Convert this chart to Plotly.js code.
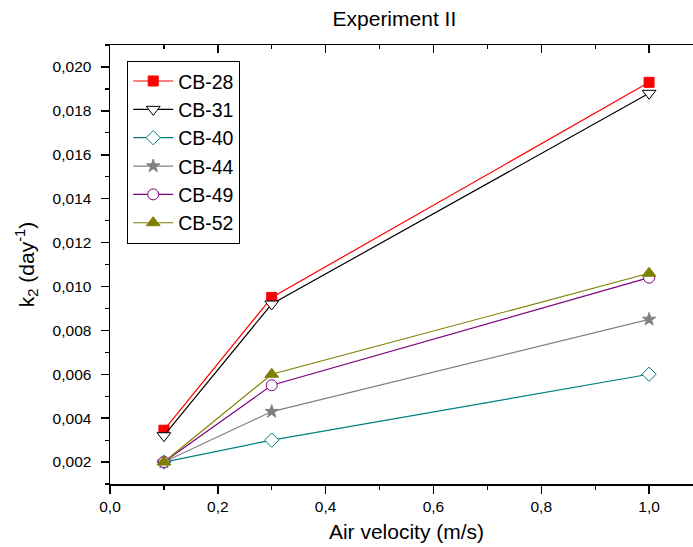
<!DOCTYPE html>
<html><head><meta charset="utf-8">
<script src="https://cdn.plot.ly/plotly-3.0.1.min.js"></script>
<style>html,body{margin:0;padding:0;overflow:hidden;background:#fff;}</style>
</head><body><div id="chart"></div>
<script>
const velocity = [0.1, 0.3, 1.0];
const seriesNames = ["CB-28", "CB-31", "CB-40", "CB-44", "CB-49", "CB-52"];
const cb28 = [0.00345, 0.0095, 0.0193];
const cb31 = [0.0032, 0.0092, 0.0188];
const cb40 = [0.0020, 0.0030, 0.0060];
const cb44 = [0.0020, 0.0043, 0.0085];
const cb49 = [0.0020, 0.0055, 0.0104];
const cb52 = [0.0020, 0.0060, 0.0106];
const values = [cb28, cb31, cb40, cb44, cb49, cb52];

const colors = ["#ff0000", "#000000", "#008080", "#808080", "#800080", "#808000"];
const symbols = ["square", "triangle-down", "diamond", "star", "circle", "triangle-up"];
const fills = ["#ff0000", "#ffffff", "#ffffff", "#808080", "#ffffff", "#808000"];
const sizes = [10, 12, 11, 10, 11, 12];

const traces = seriesNames.map((n, i) => ({
  x: velocity, y: values[i], name: n, type: "scatter", mode: "lines+markers",
  line: {color: colors[i], width: 1.2},
  marker: {symbol: symbols[i], size: sizes[i], color: fills[i], line: {color: colors[i], width: 1}}
}));
traces.push({x: [0], y: [0.001], xaxis: "x2", yaxis: "y", showlegend: false, hoverinfo: "skip", mode: "markers", marker: {opacity: 0}});

const font = {family: "Liberation Sans, Arial, sans-serif", color: "#000"};
const layout = {
  width: 703, height: 547,
  margin: {l: 110, r: 0, t: 45, b: 63},
  separators: ", ",
  paper_bgcolor: "#fff", plot_bgcolor: "#fff",
  font: Object.assign({size: 15.5}, font),
  title: {text: "Experiment II", x: 0.561, xanchor: "center", y: 0.98, yanchor: "top", font: Object.assign({size: 21}, font)},
  xaxis: {
    range: [0, 1.1], dtick: 0.2, tick0: 0, tickformat: ".1f",
    showgrid: false, zeroline: false, showline: true, linecolor: "#000", linewidth: 1.5,
    ticks: "outside", ticklen: 8, tickwidth: 1.5, tickcolor: "#000",
    minor: {dtick: 0.1, ticks: "outside", ticklen: 4, tickwidth: 1.2, tickcolor: "#000", showgrid: false},
    tickfont: Object.assign({size: 15.5}, font),
    title: {text: "Air velocity (m/s)", standoff: 10, font: Object.assign({size: 21}, font)}
  },
  xaxis2: {
    overlaying: "x", side: "top", matches: "x", range: [0, 1.1], dtick: 0.2, tick0: 0,
    showgrid: false, zeroline: false, showline: true, linecolor: "#000", linewidth: 1.5,
    ticks: "inside", ticklen: 8, tickwidth: 1.5, tickcolor: "#000", showticklabels: false,
    minor: {dtick: 0.1, ticks: "inside", ticklen: 4, tickwidth: 1.2, tickcolor: "#000", showgrid: false}
  },
  yaxis: {
    range: [0.001, 0.021], dtick: 0.002, tick0: 0, tickformat: ".3f",
    showgrid: false, zeroline: false, showline: true, linecolor: "#000", linewidth: 1.5,
    ticks: "outside", ticklen: 8, tickwidth: 1.5, tickcolor: "#000", ticklabelstandoff: 6,
    minor: {dtick: 0.001, ticks: "outside", ticklen: 4, tickwidth: 1.2, tickcolor: "#000", showgrid: false},
    tickfont: Object.assign({size: 15.5}, font),
    title: {text: "k<sub>2</sub> (day<sup>-1</sup>)", standoff: 12, font: Object.assign({size: 21}, font)}
  },
  legend: {
    x: 0.029, y: 0.964, xanchor: "left", yanchor: "top",
    bordercolor: "#000", borderwidth: 1, bgcolor: "#fff",
    font: Object.assign({size: 19.5}, font), tracegroupgap: 0, itemwidth: 40
  },
  showlegend: true
};
Plotly.newPlot("chart", traces, layout, {displayModeBar: false, staticPlot: true});
</script></body></html>
